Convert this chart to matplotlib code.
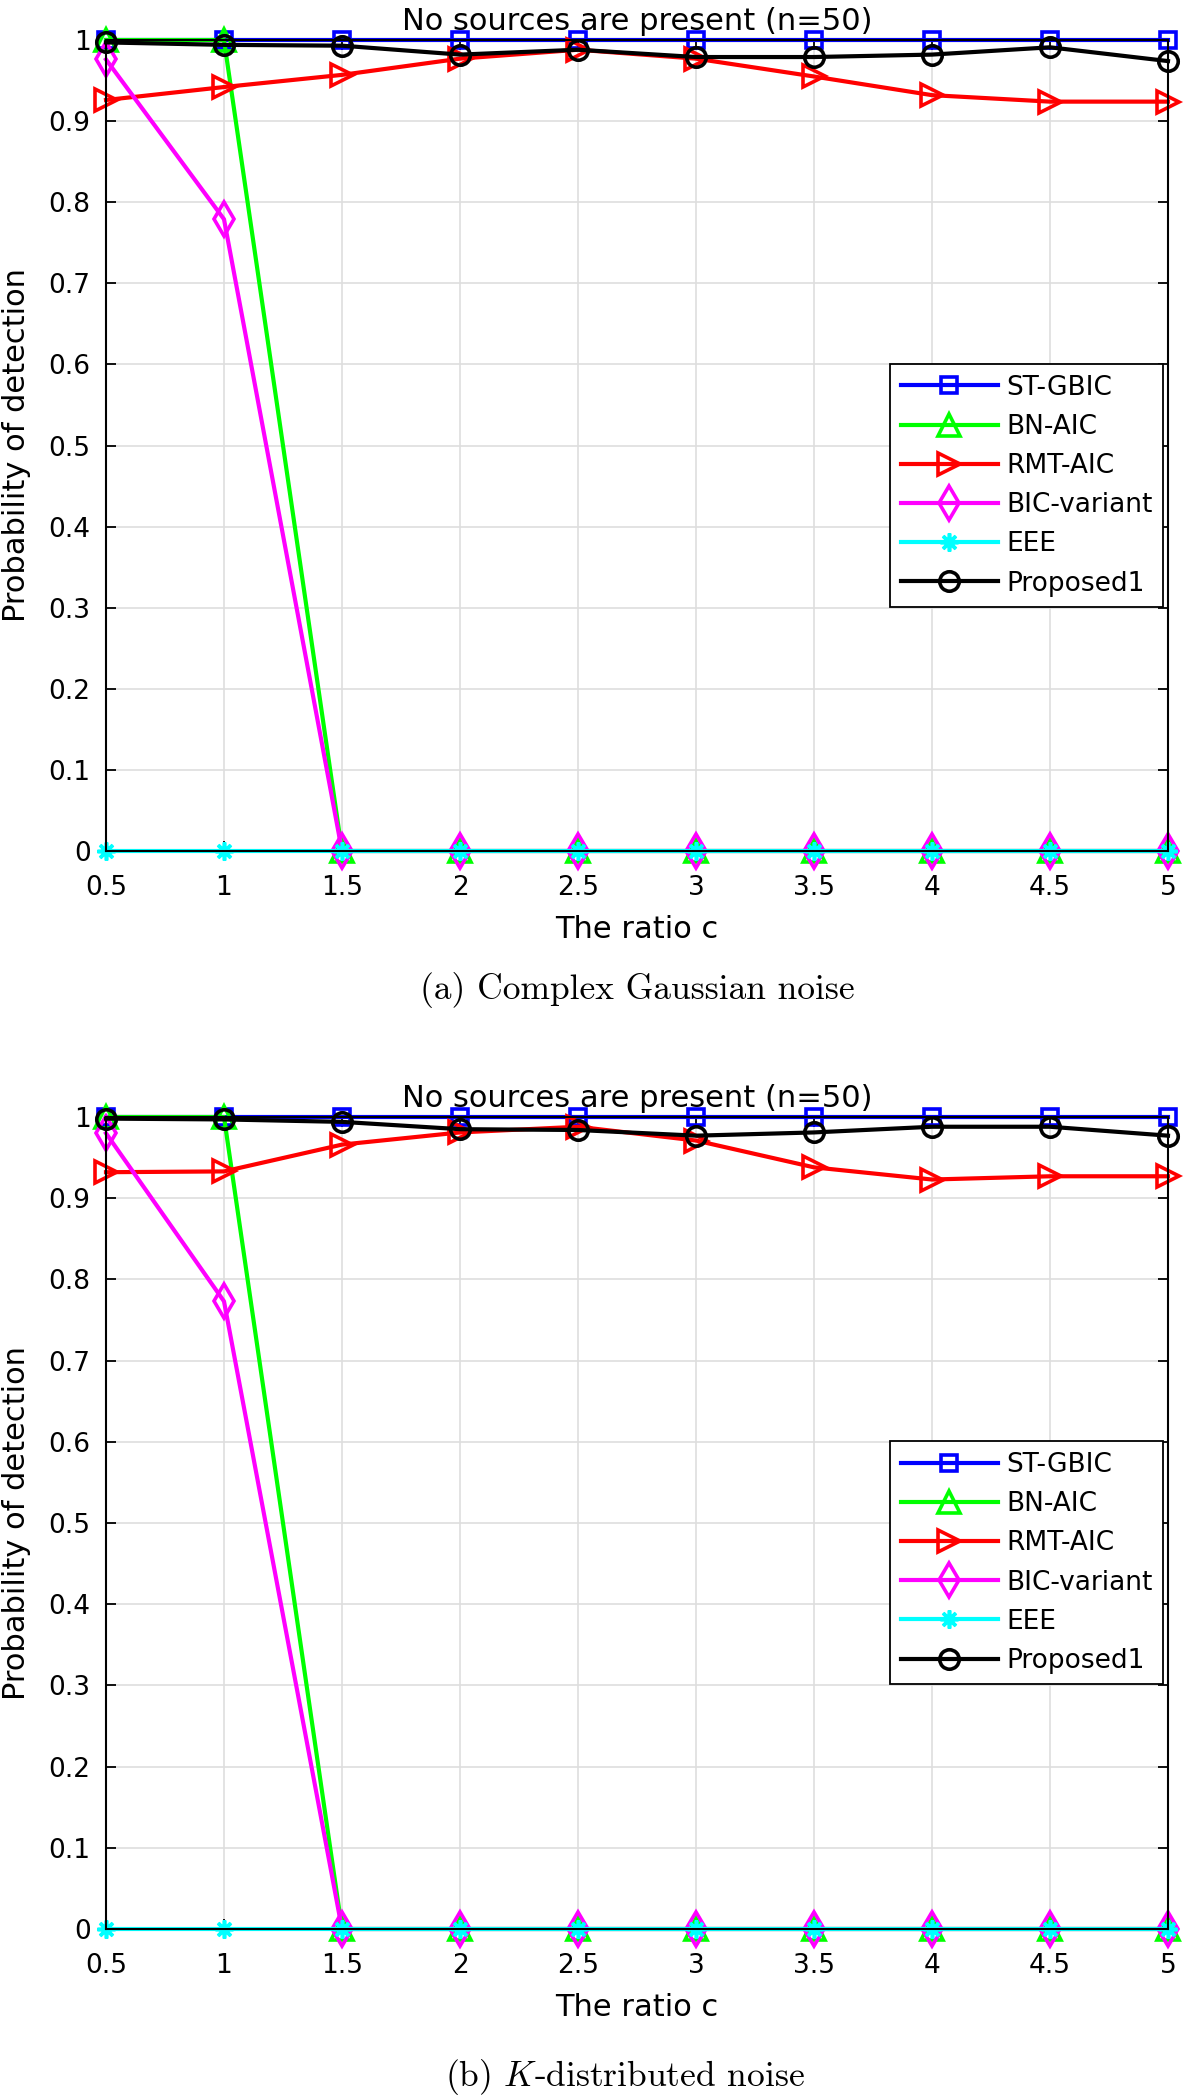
import matplotlib
matplotlib.use("Agg")
import matplotlib.pyplot as plt
from matplotlib.ticker import FuncFormatter, FixedLocator

plt.rcParams['font.family'] = ['DejaVu Sans']
plt.rcParams['mathtext.fontset'] = 'cm'

# ---------------- data ----------------
ratio_c = [0.5, 1, 1.5, 2, 2.5, 3, 3.5, 4, 4.5, 5]
series_names = ["ST-GBIC", "BN-AIC", "RMT-AIC", "BIC-variant", "EEE", "Proposed1"]

st_gbic_a = [1, 1, 1, 1, 1, 1, 1, 1, 1, 1]
bn_aic_a = [1, 1, 0, 0, 0, 0, 0, 0, 0, 0]
rmt_aic_a = [0.926, 0.942, 0.957, 0.977, 0.988, 0.977, 0.955, 0.932, 0.924, 0.924]
bic_variant_a = [0.976, 0.779, 0, 0, 0, 0, 0, 0, 0, 0]
eee_a = [0, 0, 0, 0, 0, 0, 0, 0, 0, 0]
proposed1_a = [0.997, 0.994, 0.993, 0.982, 0.988, 0.979, 0.979, 0.982, 0.991, 0.974]

st_gbic_b = [1, 1, 1, 1, 1, 1, 1, 1, 1, 1]
bn_aic_b = [1, 1, 0, 0, 0, 0, 0, 0, 0, 0]
rmt_aic_b = [0.932, 0.933, 0.966, 0.981, 0.988, 0.971, 0.938, 0.923, 0.927, 0.927]
bic_variant_b = [0.980, 0.773, 0, 0, 0, 0, 0, 0, 0, 0]
eee_b = [0, 0, 0, 0, 0, 0, 0, 0, 0, 0]
proposed1_b = [0.998, 0.997, 0.994, 0.985, 0.984, 0.977, 0.981, 0.988, 0.988, 0.977]

x_ticks = [0.5, 1, 1.5, 2, 2.5, 3, 3.5, 4, 4.5, 5]
y_ticks = [0, 0.1, 0.2, 0.3, 0.4, 0.5, 0.6, 0.7, 0.8, 0.9, 1]

title_text = "No sources are present (n=50)"
xlabel_text = "The ratio c"
ylabel_text = "Probability of detection"
caption_a = "(a) Complex Gaussian noise"
caption_b = "(b) $K$-distributed noise"

# ---------------- styles ----------------
styles = [
    dict(color=(0, 0, 1), marker='s', markersize=12),
    dict(color=(0, 1, 0), marker='^', markersize=16),
    dict(color=(1, 0, 0), marker='>', markersize=16),
    dict(color=(1, 0, 1), marker='d', markersize=17),
    dict(color=(0, 1, 1), marker=(8, 2, 0), markersize=13),
    dict(color=(0, 0, 0), marker='o', markersize=14),
]

W, H = 1185, 2098
fig = plt.figure(figsize=(W / 100, H / 100), dpi=100)

ax_left = 106 / W
ax_width = 1062 / W


def make_axes(top_px, bottom_px):
    return fig.add_axes([ax_left, 1 - bottom_px / H, ax_width, (bottom_px - top_px) / H])


def draw_panel(ax, data, legend_anchor):
    for vals, name, st in zip(data, series_names, styles):
        ax.plot(ratio_c, vals, color=st['color'], marker=st['marker'],
                markersize=st['markersize'], markerfacecolor='none',
                markeredgecolor=st['color'], markeredgewidth=2.6,
                linewidth=3.0, label=name, clip_on=False)
    ax.set_xlim(0.5, 5)
    ax.set_ylim(0, 1)
    ax.xaxis.set_major_locator(FixedLocator(x_ticks))
    ax.yaxis.set_major_locator(FixedLocator(y_ticks))
    fmt = FuncFormatter(lambda v, p: "%g" % round(v, 3))
    ax.xaxis.set_major_formatter(fmt)
    ax.yaxis.set_major_formatter(fmt)
    ax.grid(True, color=(0.87, 0.87, 0.87), linewidth=1.2)
    ax.set_axisbelow(True)
    ax.tick_params(direction='in', length=7, width=1.3, labelsize=19,
                   top=True, right=True, colors='black')
    ax.tick_params(axis='x', pad=17)
    ax.tick_params(axis='y', pad=11)
    for sp in ax.spines.values():
        sp.set_linewidth(1.5)
        sp.set_color('black')
    ax.set_title(title_text, fontsize=22, pad=7)
    ax.set_xlabel(xlabel_text, fontsize=22)
    ax.set_ylabel(ylabel_text, fontsize=22)
    ax.xaxis.set_label_coords(0.5, -0.079)
    ax.yaxis.set_label_coords(-0.071, 0.5)
    leg = ax.legend(loc='upper right', bbox_to_anchor=legend_anchor,
                    borderaxespad=0, fontsize=19, numpoints=1,
                    handlelength=3.7, handletextpad=0.3, labelspacing=0.5,
                    borderpad=0.4, fancybox=False, framealpha=1,
                    edgecolor='black')
    leg.get_frame().set_linewidth(1.3)
    return ax


ax1 = make_axes(40, 851)
draw_panel(ax1, [st_gbic_a, bn_aic_a, rmt_aic_a, bic_variant_a, eee_a, proposed1_a],
           (0.9953, 0.6005))
ax2 = make_axes(1117, 1929)
draw_panel(ax2, [st_gbic_b, bn_aic_b, rmt_aic_b, bic_variant_b, eee_b, proposed1_b],
           (0.9953, 0.6005))

fig.text(637 / W, 1 - 990 / H, caption_a, family='cmr10', fontsize=25.5,
         ha='center', va='center')
fig.text(625 / W, 1 - 2077 / H, caption_b, family='cmr10', fontsize=25.5,
         ha='center', va='center')

fig.savefig("out.png", dpi=100)
